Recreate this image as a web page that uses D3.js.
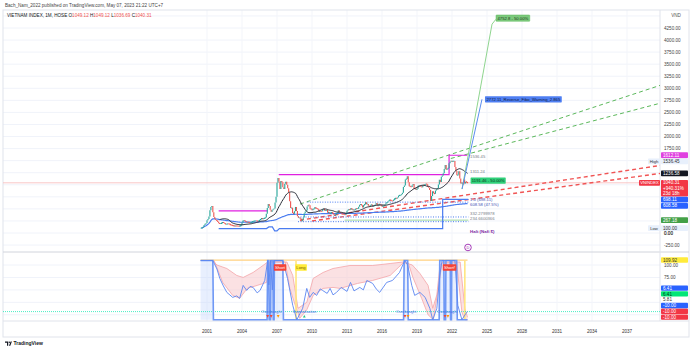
<!DOCTYPE html>
<html>
<head>
<meta charset="utf-8">
<script src="https://cdn.jsdelivr.net/npm/d3@7"></script>
<style>
  body { margin: 0; background: #fff; }
  svg { display: block; }
  text { font-family: "Liberation Sans", Arial, sans-serif; }
</style>
</head>
<body>
<svg id="chart" width="690" height="350"></svg>
<script>
// ---------- data ----------
// VN-Index monthly closes, Jul 2000 .. May 2023
const firstBar = 2000.5;
const firstOpen = 100;
const monthlyClose = [
  103, 110, 130, 166, 190, 207,
  265, 290, 340, 470, 540, 560, 430, 330, 290, 270, 250, 235,
  200, 195, 195, 210, 220, 215, 195, 185, 185, 190, 188, 183,
  170, 165, 155, 150, 145, 148, 145, 143, 142, 140, 150, 166,
  220, 260, 262, 250, 230, 225, 225, 215, 210, 215, 225, 239,
  245, 252, 252, 250, 248, 250, 265, 290, 305, 295, 300, 307,
  320, 400, 520, 600, 560, 480, 440, 470, 490, 510, 630, 752,
  1040, 1138, 1070, 910, 1080, 1050, 950, 910, 1020, 1060, 1000, 927,
  840, 660, 516, 522, 414, 399, 451, 540, 456, 347, 314, 315,
  303, 245, 280, 321, 412, 448, 466, 547, 580, 577, 503, 494,
  481, 496, 498, 541, 508, 507, 495, 446, 455, 452, 450, 485,
  510, 462, 462, 480, 422, 432, 408, 419, 427, 419, 383, 351,
  375, 412, 417, 473, 428, 422, 405, 398, 392, 388, 376, 414,
  459, 483, 491, 480, 517, 481, 486, 474, 479, 509, 505, 505,
  545, 588, 592, 577, 530, 578, 591, 638, 598, 601, 567, 546,
  576, 589, 551, 562, 569, 593, 620, 565, 568, 607, 584, 579,
  545, 560, 561, 593, 618, 632, 652, 674, 685, 673, 666, 665,
  695, 710, 722, 717, 737, 776, 783, 783, 804, 837, 956, 984,
  1110, 1121, 1174, 1050, 970, 960, 955, 989, 1017, 914, 926, 892,
  910, 980, 980, 979, 960, 949, 992, 984, 1000, 1020, 1009, 961,
  937, 889, 662, 769, 864, 825, 813, 880, 906, 926, 1003, 1104,
  1056, 1168, 1191, 1239, 1328, 1408, 1310, 1331, 1342, 1444.27, 1478.44, 1498.28,
  1478.26, 1490.13, 1492.15, 1366.80, 1292.68, 1197.60, 1206.28, 1280.51, 1132.11, 1027.94, 1048.42, 1007.09,
  1111.18, 1025.39, 1064.64, 1049.12, 1040.31
];

const yearTicks = [2001, 2004, 2007, 2010, 2013, 2016, 2019, 2022, 2025, 2028, 2031, 2034, 2037];
const priceGrid = [-250, 0, 250, 500, 750, 1000, 1250, 1500, 1750, 2000, 2250, 2500, 2750, 3000, 3250, 3500, 3750, 4000, 4250, 4500];
const priceTickLabels = [4250, 4000, 3750, 3500, 3250, 3000, 2750, 2500, 2250, 2000, 1750, 0, -250];
const oscGrid = [0, 25, 50, 75, 100];
const oscTickLabels = [100, 75];

// drawn levels and trend tools: [year, price]
const magentaHigh = [[2007.15, 1211], [2021.75, 1211], [2021.75, 1612.11], [2023.3, 1612.11]];
const magentaLow = [[2002.0, 460], [2006.2, 460]];
const supportStep = [[2002.0, 91], [2006.1, 91], [2006.3, 125], [2006.6, 125], [2006.8, 45], [2007.0, 45], [2007.2, 91], [2021.2, 91], [2021.2, 698.11], [2023.4, 698.11]];
const greenTrendUpper = [[2008.97, 600], [2039.83, 3060]];
const greenTrendLower = [[2021.9, 1545], [2039.83, 2690]];
const redTrendA = [[2008.97, 265], [2039.83, 1400]];
const redTrendB = [[2010.0, 250], [2039.83, 1235]];
const blueDottedHigh = [[2009.6, 640], [2023.4, 640]];
const blueDotted332 = [[2008.8, 332.28], [2023.4, 332.28]];
const blueDotted234 = [[2008.8, 234.66], [2023.4, 234.66]];
const greenLevel = [[2012.8, 267.18], [2023.4, 267.18]];
const fibGreen = [[2022.86, 911], [2025.43, 4330]];
const fibBlue = [[2022.86, 911], [2024.57, 2772.11]];

// price-scale badges
const priceBadgeValues = [1612.11, 1536.45, 1236.58, 1040.31, 698.11, 608.58, 267.18, 100.00];
const priceBadgeTexts = [["1612.11"], ["1536.45"], ["1236.58"], ["1040.31", "+940.31%", "23d 18h"], ["698.11"], ["608.58"], ["267.18"], ["100.00"]];
const oscBadgeValues = [109.92, 6.41, 6.41, 5.81, -10, -10, -10];

// oscillator lines: [year, value]
const oscSlow = [
  [2000.45, 109], [2001.5, 109], [2001.85, 92], [2002.1, 73], [2002.4, 58], [2002.7, 45], [2003.2, 35], [2003.55, 38], [2003.8, 33],
  [2004.1, 59], [2004.4, 49], [2004.7, 57], [2004.95, 55], [2005.3, 44], [2005.55, 49], [2005.95, 69], [2006.2, 109], [2006.3, 60],
  [2006.45, 109], [2006.6, 50], [2006.75, 109], [2007.5, 109], [2007.9, 73], [2008.35, 19], [2008.7, -10], [2009.2, 13],
  [2009.55, 53], [2009.8, 35], [2010.1, 45], [2010.4, 39], [2010.7, 52], [2010.9, 49], [2011.3, 43], [2011.55, 53], [2011.8, 40],
  [2012.1, 45], [2012.5, 55], [2013.0, 47], [2013.3, 65], [2013.6, 48], [2014.1, 55], [2014.4, 50], [2014.7, 69], [2015.2, 63],
  [2015.5, 52], [2015.8, 45], [2016.4, 65], [2016.9, 69], [2017.5, 85], [2017.95, 109], [2018.2, 100], [2018.55, 59],
  [2018.8, 39], [2019.25, 45], [2019.7, 35], [2020.1, 13], [2020.35, -10], [2020.7, 13], [2020.95, 79], [2021.15, 109],
  [2022.25, 109], [2022.5, 19], [2022.85, -10], [2023.2, 3], [2023.33, 6.41]
];
const oscFast = [
  [2000.45, 109], [2001.5, 109], [2001.55, -10], [2006.15, -10], [2006.2, 109], [2006.3, 109], [2006.33, -10], [2006.45, -10],
  [2006.48, 109], [2006.65, 109], [2006.68, -10], [2006.75, -10], [2006.78, 109], [2007.5, 109], [2007.55, -10],
  [2017.85, -10], [2017.9, 109], [2018.2, 109], [2018.25, -10], [2020.9, -10], [2020.95, 109], [2021.3, 109],
  [2021.33, -10], [2021.45, -10], [2021.48, 109], [2021.85, 109], [2021.88, -10], [2021.95, -10], [2021.98, 109],
  [2022.4, 109], [2022.45, -10], [2023.33, -10]
];
const overboughtSpans = [[2000.45, 2001.55], [2006.15, 2007.55], [2017.85, 2018.25], [2020.95, 2022.45]];
const bandTop = [
  [2001.5, 109], [2001.85, 100], [2002.7, 93], [2003.55, 79], [2004.1, 75], [2004.95, 85], [2005.8, 99], [2006.2, 106],
  [2007.85, 106], [2008.35, 79], [2008.8, 13], [2009.55, 25], [2010.1, 73], [2010.95, 85], [2011.8, 93], [2013.25, 99],
  [2015.2, 99], [2016.7, 103], [2017.8, 106], [2018.6, 100], [2019.25, 83], [2019.95, 59], [2020.35, 13], [2020.7, 40],
  [2020.97, 99], [2021.2, 106], [2022.7, 106], [2023.1, 13], [2023.33, -5]
];
const bandBottom = [
  [2001.6, 109], [2002.35, 65], [2003.2, 39], [2003.8, 33], [2004.45, 53], [2005.3, 59], [2006.1, 65], [2006.4, 106],
  [2007.7, 106], [2008.1, 53], [2008.55, 20], [2008.95, -7], [2009.55, 10], [2010.1, 39], [2010.95, 53], [2011.8, 55],
  [2012.4, 53], [2013.9, 63], [2015.2, 69], [2016.7, 79], [2017.8, 104], [2018.25, 104], [2018.65, 75], [2019.4, 33],
  [2019.95, 0], [2020.4, -10], [2020.8, 50], [2021.15, 104], [2022.4, 104], [2022.85, 5], [2023.1, -10], [2023.33, -10]
];
const signalMarkers = [[2006.2, "sell"], [2006.5, "sell"], [2007.1, "warn"], [2009.34, "buy"], [2017.97, "sell"], [2018.23, "warn"], [2021.4, "sell"], [2021.65, "warn"]];
const signalLabels = [[2007.26, "Short"], [2009.06, "Long"], [2021.79, "Short!"]];
const zoneLabels = [[2006.53, "Overbought"], [2009.36, "Overvaluation"], [2018.07, "Overbought"], [2021.6, "Overbought"]];

// ---------- layout ----------
const svg = d3.select("#chart");
const paneL = 3, paneR = 660, priceTop = 10, priceBot = 252, oscBot = 321, axisBot = 337;
const x = d3.scaleLinear().domain([2001, 2037]).range([207, 627]);
const yP = d3.scaleLinear().domain([0, 4250]).range([233, 28]);
const yI = d3.scaleLinear().domain([0, 100]).range([314.8, 265]);
const UP = "#26a69a", DOWN = "#ef5350";
const FS = 4.6;

svg.append("rect").attr("width", 690).attr("height", 350).attr("fill", "#fff");

const defs = svg.append("defs");
defs.append("clipPath").attr("id", "clipP").append("rect")
  .attr("x", paneL).attr("y", priceTop).attr("width", paneR - paneL).attr("height", priceBot - priceTop);
defs.append("clipPath").attr("id", "clipI").append("rect")
  .attr("x", paneL).attr("y", priceBot).attr("width", paneR - paneL).attr("height", oscBot - priceBot);

// grid
const grid = svg.append("g");
grid.selectAll("line.hp").data(priceGrid.filter(v => yP(v) > priceTop && yP(v) < priceBot)).join("line")
  .attr("x1", paneL).attr("x2", paneR).attr("y1", d => yP(d)).attr("y2", d => yP(d))
  .attr("stroke", "#f0f3fa").attr("stroke-width", 1);
grid.selectAll("line.hi").data(oscGrid).join("line")
  .attr("x1", paneL).attr("x2", paneR).attr("y1", d => yI(d)).attr("y2", d => yI(d))
  .attr("stroke", "#f0f3fa").attr("stroke-width", 1);
grid.selectAll("line.v").data(yearTicks).join("line")
  .attr("x1", d => x(d)).attr("x2", d => x(d)).attr("y1", priceTop).attr("y2", oscBot)
  .attr("stroke", "#f3f5fa").attr("stroke-width", 1);

// frame
const frame = svg.append("g").attr("fill", "none").attr("stroke", "#e0e3eb").attr("stroke-width", 1);
frame.append("rect").attr("x", paneL).attr("y", priceTop).attr("width", 689 - paneL).attr("height", axisBot - priceTop);
frame.append("line").attr("x1", paneL).attr("x2", 689).attr("y1", priceBot).attr("y2", priceBot).attr("stroke", "#d1d4dc");
frame.append("line").attr("x1", paneL).attr("x2", 689).attr("y1", oscBot).attr("y2", oscBot);
frame.append("line").attr("x1", paneR).attr("x2", paneR).attr("y1", priceTop).attr("y2", oscBot);

// ---------- price pane ----------
const gP = svg.append("g").attr("clip-path", "url(#clipP)");
const lineP = d3.line().x(d => x(d[0])).y(d => yP(d[1]));

// current price line
const lastClose = monthlyClose[monthlyClose.length - 1];
gP.append("line").attr("x1", paneL).attr("x2", paneR).attr("y1", yP(lastClose)).attr("y2", yP(lastClose))
  .attr("stroke", "#f7b7b7").attr("stroke-width", 0.8);

// trend lines
[[greenTrendUpper, "#5cb85c"], [greenTrendLower, "#5cb85c"]].forEach(([d, c]) =>
  gP.append("path").datum(d).attr("d", lineP).attr("fill", "none").attr("stroke", c).attr("stroke-width", 1).attr("stroke-dasharray", "4,3"));
[[redTrendA, "#f05454"], [redTrendB, "#f05454"]].forEach(([d, c]) =>
  gP.append("path").datum(d).attr("d", lineP).attr("fill", "none").attr("stroke", c).attr("stroke-width", 1.4).attr("stroke-dasharray", "4,3"));

// dotted levels
[blueDottedHigh, blueDotted332, blueDotted234].forEach(d =>
  gP.append("path").datum(d).attr("d", lineP).attr("fill", "none").attr("stroke", "#4a7cf0").attr("stroke-width", 1).attr("stroke-dasharray", "1,1.5"));
gP.append("path").datum(greenLevel).attr("d", lineP).attr("fill", "none").attr("stroke", "#9fd99f").attr("stroke-width", 1);

// long-term average of all closes (expanding mean)
let run = 0;
const cumMean = monthlyClose.map((c, i) => { run += c; return [firstBar + i / 12, run / (i + 1)]; });
gP.append("path").datum(cumMean).attr("d", lineP).attr("fill", "none").attr("stroke", "#4a7cf0").attr("stroke-width", 1.2);

// support step line
gP.append("path").datum(supportStep).attr("d", lineP).attr("fill", "none").attr("stroke", "#4a7cf0").attr("stroke-width", 1.2);

// magenta range levels
gP.append("path").datum(magentaHigh).attr("d", lineP).attr("fill", "none").attr("stroke", "#e020e0").attr("stroke-width", 1.2);
gP.append("path").datum(magentaLow).attr("d", lineP).attr("fill", "none").attr("stroke", "#e020e0").attr("stroke-width", 1.2);

// candles
const bars = monthlyClose.map((c, i) => ({ t: firstBar + i / 12, o: i ? monthlyClose[i - 1] : firstOpen, c }));
gP.selectAll("line.cdl").data(bars).join("line")
  .attr("x1", d => x(d.t)).attr("x2", d => x(d.t))
  .attr("y1", d => { const a = yP(d.o), b = yP(d.c); return Math.abs(a - b) < 0.8 ? Math.min(a, b) - 0.4 : a; })
  .attr("y2", d => { const a = yP(d.o), b = yP(d.c); return Math.abs(a - b) < 0.8 ? Math.max(a, b) + 0.4 : b; })
  .attr("stroke", d => d.c >= d.o ? UP : DOWN).attr("stroke-width", 1.1);

// 20-period simple moving average
const sma20 = [];
for (let i = 19; i < monthlyClose.length; i++) {
  sma20.push([firstBar + i / 12, d3.mean(monthlyClose.slice(i - 19, i + 1))]);
}
gP.append("path").datum(sma20).attr("d", lineP).attr("fill", "none").attr("stroke", "#2a2e39").attr("stroke-width", 1);

// fibonacci projections
gP.append("path").datum(fibGreen).attr("d", lineP).attr("fill", "none").attr("stroke", "#8fd58f").attr("stroke-width", 1);
gP.append("path").datum(fibBlue).attr("d", lineP).attr("fill", "none").attr("stroke", "#5b8def").attr("stroke-width", 1);

function box(g, left, cy, text, bg, fg, fs, pad) {
  const grp = g.append("g");
  const r = grp.append("rect").attr("y", cy - fs * 0.75).attr("height", fs * 1.5).attr("fill", bg).attr("rx", 0.6);
  const t = grp.append("text").attr("x", left + pad).attr("y", cy).attr("dy", "0.35em")
    .attr("font-size", fs).attr("fill", fg).text(text);
  const w = t.node().getComputedTextLength();
  r.attr("x", left).attr("width", w + pad * 2);
  return grp;
}
const gA = svg.append("g");
const fg0 = fibGreen[1], fb0 = fibBlue[1];
box(gA, x(fg0[0]) + 4, yP(fg0[1]) - 6, "4752.8 - 50.00%", "#7cc97c", "#1b3a1b", 4.2, 1.5).select("rect").attr("stroke", "#5cb85c").attr("stroke-width", 0.5);
gA.append("path").attr("d", `M${x(fg0[0])},${yP(fg0[1])}l4,-5`).attr("stroke", "#8fd58f").attr("fill", "none");
box(gA, x(fb0[0]) + 3, yP(fb0[1]), "2772.11_Reverse_Fibo_Warning_2.865", "#4f7ff2", "#0d1a3a", 4.2, 1.5);

// level labels near the last bar
const lblX = x(2023.55);
const lbl = (v, t, dy, col, fs, bold) => gA.append("text").attr("x", lblX).attr("y", yP(v) + dy).attr("dy", "0.35em")
  .attr("font-size", fs || 4.2).attr("fill", col || "#787b86").attr("font-weight", bold ? "bold" : null).text(t);
lbl(1536.45, "1536.45", -2.5);
lbl(1311.24, "1311.24", 1.5);
box(gA, lblX + 0.5, yP(1191.46) + 5, "1191.46 - 50.00%", "#2fd17a", "#0f3320", 4.2, 1.2);
lbl(698.11, "1.0 (698.11)", 0, "#3f51b5");
lbl(608.58, "608.58 (47.5%)", 0.5, "#3f51b5");
lbl(332.28, "332.2799978", -3);
lbl(234.66, "234.6600366", -3);
lbl(30, "Halt (Nafi $)", 0, "#7b1fa2", 4.4, true);
gA.append("circle").attr("cx", x(2023.37)).attr("cy", yP(-300)).attr("r", 3.3).attr("fill", "#fff").attr("stroke", "#9c27b0").attr("stroke-width", 0.9);
gA.append("text").attr("x", x(2023.37)).attr("y", yP(-300)).attr("dy", "0.35em").attr("text-anchor", "middle")
  .attr("font-size", 4).attr("fill", "#9c27b0").text("D");

// ---------- oscillator pane ----------
const gI = svg.append("g").attr("clip-path", "url(#clipI)");
const lineI = d3.line().x(d => x(d[0])).y(d => yI(d[1]));

gI.selectAll("rect.ob").data(overboughtSpans).join("rect")
  .attr("x", d => x(d[0])).attr("width", d => x(d[1]) - x(d[0]))
  .attr("y", yI(109)).attr("height", yI(-10) - yI(109)).attr("fill", "#bcd0fb").attr("opacity", 0.35);

// band between the two smoothed envelopes
const bandPoly = bandTop.map(d => [x(d[0]), yI(d[1])]).concat(bandBottom.slice().reverse().map(d => [x(d[0]), yI(d[1])]));
gI.append("path").attr("d", "M" + bandPoly.join("L") + "Z").attr("fill", "#f8c8cc").attr("opacity", 0.55);
gI.append("path").datum(bandTop).attr("d", lineI).attr("fill", "none").attr("stroke", "#f4a4a8").attr("stroke-width", 0.8);
gI.append("path").datum(bandBottom).attr("d", lineI).attr("fill", "none").attr("stroke", "#f4a4a8").attr("stroke-width", 0.8);

// reference level line
gI.append("line").attr("x1", x(2000.45)).attr("x2", x(2023.33)).attr("y1", yI(oscBadgeValues[0])).attr("y2", yI(oscBadgeValues[0]))
  .attr("stroke", "#ffd180").attr("stroke-width", 1.2);
// signal verticals
[2008.63, 2023.1].forEach(t => gI.append("line").attr("x1", x(t)).attr("x2", x(t)).attr("y1", yI(109)).attr("y2", yI(-10))
  .attr("stroke", "#ffe680").attr("stroke-width", 1.6));

// threshold line
gI.append("line").attr("x1", paneL).attr("x2", paneR).attr("y1", yI(6.41)).attr("y2", yI(6.41))
  .attr("stroke", "#1de9b6").attr("stroke-width", 0.8).attr("stroke-dasharray", "1,1");

gI.append("path").datum(oscFast).attr("d", lineI).attr("fill", "none").attr("stroke", "#6f98f5").attr("stroke-width", 1.6);
gI.append("path").datum(oscSlow).attr("d", lineI).attr("fill", "none").attr("stroke", "#5b86f0").attr("stroke-width", 0.9);

// markers
const mcol = { sell: "#f44336", warn: "#ff9800", buy: "#26c281" };
gI.selectAll("path.mk").data(signalMarkers).join("path")
  .attr("transform", d => `translate(${x(d[0])},${yI(-3)})`)
  .attr("d", d => d[1] === "buy" ? "M-1.4,1.2L1.4,1.2L0,-1.4Z" : "M-1.4,-1.2L1.4,-1.2L0,1.4Z")
  .attr("fill", d => mcol[d[1]]);

// zone labels
gI.selectAll("text.zone").data(zoneLabels).join("text")
  .attr("x", d => x(d[0])).attr("y", yI(7)).attr("dy", "0.35em").attr("text-anchor", "middle")
  .attr("font-size", 3.9).attr("fill", "#3d6ee8").text(d => d[1]);

// signal labels
signalLabels.forEach(([t, s]) => {
  const isLong = s === "Long";
  const g = box(gI, 0, yI(95), s, isLong ? "#ffeb3b" : "#f44336", isLong ? "#6d5d00" : "#fff", 4.2, 1.2);
  const w = +g.select("rect").attr("width");
  g.attr("transform", `translate(${x(t) - w / 2},0)`);
});

// ---------- price scale ----------
const gS = svg.append("g");
gS.append("text").attr("x", 676).attr("y", 15).attr("dy", "0.35em").attr("text-anchor", "middle")
  .attr("font-size", FS).attr("fill", "#555").text("VND");
gS.selectAll("text.pt").data(priceTickLabels).join("text")
  .attr("x", 664).attr("y", d => yP(d)).attr("dy", "0.35em").attr("font-size", FS).attr("fill", "#444")
  .text(d => d.toFixed(2));
gS.selectAll("text.it").data(oscTickLabels).join("text")
  .attr("x", 664).attr("y", d => yI(d)).attr("dy", "0.35em").attr("font-size", FS).attr("fill", "#444")
  .text(d => d.toFixed(2));

const pStyle = [
  { bg: "#e040e0", fg: "#fff" }, { bg: "#e8f0fc", fg: "#333", tag: "High" }, { bg: "#131722", fg: "#fff" },
  { bg: "#f23645", fg: "#fff" }, { bg: "#2962ff", fg: "#fff" }, { bg: "#2962ff", fg: "#fff" },
  { bg: "#43a047", fg: "#fff" }, { bg: "#e8f0fc", fg: "#333", tag: "Low" }
];
const LH = 5.4;
let prevBottom = -1;
priceBadgeValues.forEach((v, i) => {
  const lines = priceBadgeTexts[i];
  const h = lines.length * LH + 0.4;
  let top = Math.max(yP(v) - LH / 2 - 0.2, prevBottom + 0.3);
  prevBottom = top + h;
  const st = pStyle[i];
  gS.append("rect").attr("x", 661).attr("y", top).attr("width", 27).attr("height", h).attr("fill", st.bg).attr("rx", 0.8);
  lines.forEach((s, k) => gS.append("text").attr("x", 663).attr("y", top + 0.2 + LH * (k + 0.5)).attr("dy", "0.35em")
    .attr("font-size", FS).attr("fill", st.fg).text(s));
  if (st.tag) {
    gS.append("rect").attr("x", 648).attr("y", top).attr("width", 12).attr("height", h).attr("fill", st.bg).attr("rx", 0.8);
    gS.append("text").attr("x", 654).attr("y", top + h / 2).attr("dy", "0.35em").attr("text-anchor", "middle")
      .attr("font-size", 4.2).attr("fill", "#333").text(st.tag);
  }
});
// symbol tag on the current price
gS.append("rect").attr("x", 639).attr("y", yP(lastClose) - 2.9).attr("width", 21).attr("height", 5.8).attr("fill", "#f23645").attr("rx", 0.8);
gS.append("text").attr("x", 649.5).attr("y", yP(lastClose)).attr("dy", "0.35em").attr("text-anchor", "middle")
  .attr("font-size", 4.2).attr("fill", "#fff").text("VNINDEX");
gS.append("text").attr("x", 664).attr("y", yP(0)).attr("dy", "0.35em").attr("font-size", FS).attr("fill", "#444").text("0.00");

// oscillator badges, stacked upward from the pane bottom
const iStyle = [
  { bg: "#ffeb3b", fg: "#333" }, { bg: "#2962ff", fg: "#fff" }, { bg: "#00e676", fg: "#0b3d23" },
  { bg: null, fg: "#333" }, { bg: "#2962ff", fg: "#fff" }, { bg: "#f23645", fg: "#fff" }, { bg: "#f23645", fg: "#fff" }
];
const BH = 5.8;
let prevTop = 320;
const order = oscBadgeValues.map((v, i) => i).sort((a, b) => oscBadgeValues[a] - oscBadgeValues[b] || b - a);
order.forEach(i => {
  const v = oscBadgeValues[i];
  const bottom = Math.min(yI(v) + BH / 2, prevTop);
  const top = bottom - BH;
  prevTop = top;
  const st = iStyle[i];
  if (st.bg) gS.append("rect").attr("x", 661).attr("y", top + 0.2).attr("width", 27).attr("height", BH - 0.4).attr("fill", st.bg).attr("rx", 0.8);
  gS.append("text").attr("x", 663).attr("y", top + BH / 2).attr("dy", "0.35em").attr("font-size", FS).attr("fill", st.fg)
    .text(v.toFixed(2));
});

// ---------- time axis ----------
svg.append("g").selectAll("text").data(yearTicks).join("text")
  .attr("x", d => x(d)).attr("y", 331).attr("dy", "0.35em").attr("text-anchor", "middle")
  .attr("font-size", FS).attr("fill", "#333").text(d => d);

// ---------- header ----------
const hd = svg.append("g");
hd.append("text").attr("x", 5).attr("y", 5.5).attr("dy", "0.35em").attr("font-size", FS).attr("fill", "#444")
  .text("Bach_Nam_2022 published on TradingView.com, May 07, 2023 21:22 UTC+7");
const ohlcLabels = ["O", "H", "L", "C"];
const ohlcValues = ["1049.12", "1049.12", "1036.69", "1040.31"];
const t2 = hd.append("text").attr("x", 7).attr("y", 15.5).attr("dy", "0.35em").attr("font-size", FS).attr("fill", "#131722");
t2.append("tspan").text("VIETNAM INDEX, 1M, HOSE ");
ohlcLabels.forEach((l, i) => {
  t2.append("tspan").attr("fill", "#131722").text((i ? " " : "") + l);
  t2.append("tspan").attr("fill", DOWN).text(ohlcValues[i]);
});

// ---------- footer logo ----------
const ft = svg.append("g");
ft.append("path").attr("d", "M5,341.5h3.2v4.2h-1.2v-3h-2z M9,345.7l1.6,-4.2h1.3l-1.6,4.2z").attr("fill", "#131722");
ft.append("circle").attr("cx", 9.3).attr("cy", 342.2).attr("r", 0.7).attr("fill", "#131722");
ft.append("text").attr("x", 13.5).attr("y", 343.6).attr("dy", "0.35em").attr("font-size", 5).attr("font-weight", "bold")
  .attr("fill", "#131722").text("TradingView");
</script>
</body>
</html>
